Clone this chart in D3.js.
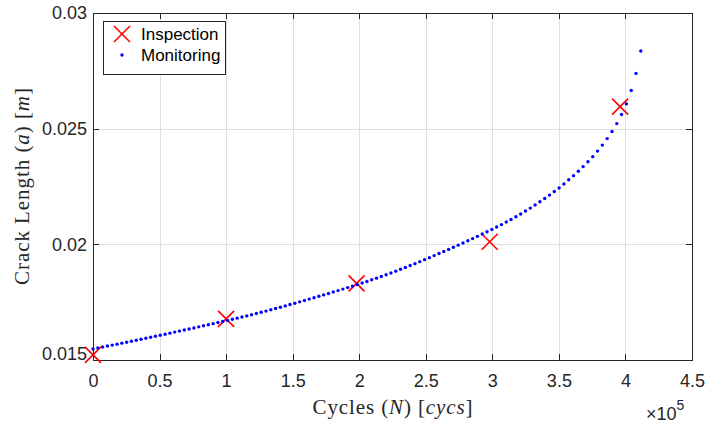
<!DOCTYPE html>
<html>
<head>
<meta charset="utf-8">
<script src="https://cdn.jsdelivr.net/npm/d3@7"></script>
<style>
  body { margin: 0; background: #ffffff; }
  svg { display: block; }
</style>
</head>
<body>
<svg id="chart" width="708" height="425"></svg>
<script>
// Inspection measurements (cycles, crack length in m)
const inspectionCycles = [0, 100000, 198000, 298000, 396000];
const inspectionCrack = [0.01522, 0.01678, 0.01831, 0.02011, 0.02595];

// Continuous monitoring samples (cycles, crack length in m)
const monitoringCycles = [
  0, 3610, 7220, 10830, 14440, 18050, 21660, 25270, 28880, 32490,
  36100, 39710, 43320, 46930, 50540, 54150, 57760, 61370, 64980, 68590,
  72200, 75810, 79420, 83030, 86640, 90250, 93860, 97470, 101080, 104690,
  108300, 111910, 115520, 119130, 122740, 126350, 129960, 133570, 137180, 140790,
  144400, 148010, 151620, 155230, 158840, 162450, 166060, 169670, 173280, 176890,
  180500, 184110, 187720, 191330, 194940, 198550, 202160, 205770, 209380, 212990,
  216600, 220210, 223820, 227430, 231040, 234650, 238260, 241870, 245480, 249090,
  252700, 256310, 259920, 263530, 267140, 270750, 274360, 277970, 281580, 285190,
  288800, 292410, 296020, 299630, 303240, 306850, 310460, 314070, 317680, 321290,
  324900, 328510, 332120, 335730, 339340, 342950, 346560, 350170, 353780, 357390,
  361000, 364610, 368220, 371830, 375440, 379050, 382660, 386270, 389880, 393490,
  397100, 400710, 404320, 407930, 411540
];
const monitoringCrack = [
  0.015480, 0.015521, 0.015562, 0.015603, 0.015644, 0.015686, 0.015728, 0.015770, 0.015812, 0.015855,
  0.015898, 0.015941, 0.015984, 0.016028, 0.016072, 0.016116, 0.016160, 0.016205, 0.016250, 0.016295,
  0.016340, 0.016386, 0.016432, 0.016478, 0.016524, 0.016571, 0.016618, 0.016665, 0.016712, 0.016760,
  0.016808, 0.016857, 0.016906, 0.016957, 0.017008, 0.017061, 0.017114, 0.017169, 0.017224, 0.017281,
  0.017338, 0.017396, 0.017454, 0.017513, 0.017572, 0.017632, 0.017692, 0.017753, 0.017814, 0.017876,
  0.017938, 0.018001, 0.018064, 0.018129, 0.018194, 0.018260, 0.018328, 0.018396, 0.018467, 0.018538,
  0.018612, 0.018686, 0.018763, 0.018840, 0.018920, 0.019000, 0.019083, 0.019166, 0.019252, 0.019338,
  0.019425, 0.019512, 0.019601, 0.019690, 0.019781, 0.019872, 0.019965, 0.020058, 0.020153, 0.020248,
  0.020346, 0.020444, 0.020544, 0.020644, 0.020748, 0.020852, 0.020963, 0.021074, 0.021193, 0.021312,
  0.021439, 0.021566, 0.021702, 0.021838, 0.021983, 0.022128, 0.022283, 0.022438, 0.022610, 0.022790,
  0.022970, 0.023160, 0.023360, 0.023570, 0.023790, 0.024030, 0.024290, 0.024570, 0.024880, 0.025220,
  0.025610, 0.026070, 0.026650, 0.027390, 0.028360
];

// Axis ticks
const xTicks = [0, 50000, 100000, 150000, 200000, 250000, 300000, 350000, 400000, 450000];
const xTickLabels = ["0", "0.5", "1", "1.5", "2", "2.5", "3", "3.5", "4", "4.5"];
const yTicks = [0.015, 0.02, 0.025, 0.03];
const yTickLabels = ["0.015", "0.02", "0.025", "0.03"];

const legendLabels = ["Inspection", "Monitoring"];

const plot = { left: 93, right: 692, top: 13, bottom: 360 };
const axisColor = "#262626";
const gridColor = "#dfdfdf";
const sansFont = "'Liberation Sans', Arial, Helvetica, sans-serif";
const serifFont = "'Liberation Serif', 'Times New Roman', serif";

const svg = d3.select("#chart");

const x = d3.scaleLinear().domain([0, 450000]).range([plot.left, plot.right]);
const y = d3.scaleLinear().domain([0.015, 0.03]).range([plot.bottom, plot.top]);

// Grid
const grid = svg.append("g").attr("shape-rendering", "crispEdges");
grid.selectAll("line.gx")
  .data(xTicks.slice(1, -1))
  .join("line")
  .attr("class", "gx")
  .attr("x1", d => Math.round(x(d)) + 0.5).attr("x2", d => Math.round(x(d)) + 0.5)
  .attr("y1", plot.top).attr("y2", plot.bottom)
  .attr("stroke", gridColor).attr("stroke-width", 1);
grid.selectAll("line.gy")
  .data(yTicks.slice(1, -1))
  .join("line")
  .attr("class", "gy")
  .attr("y1", d => Math.round(y(d)) + 0.5).attr("y2", d => Math.round(y(d)) + 0.5)
  .attr("x1", plot.left).attr("x2", plot.right)
  .attr("stroke", gridColor).attr("stroke-width", 1);

// Axes (ticks pointing inward, mirrored on top and right)
const xAxis = d3.axisBottom(x).tickValues(xTicks)
  .tickFormat((d, i) => xTickLabels[i]).tickSizeInner(-6).tickSizeOuter(0).tickPadding(14);
const yAxis = d3.axisLeft(y).tickValues(yTicks)
  .tickFormat((d, i) => yTickLabels[i]).tickSizeInner(-6).tickSizeOuter(0).tickPadding(6);
const xAxisTop = d3.axisTop(x).tickValues(xTicks).tickFormat("").tickSizeInner(-6).tickSizeOuter(0);
const yAxisRight = d3.axisRight(y).tickValues(yTicks).tickFormat("").tickSizeInner(-6).tickSizeOuter(0);

function styleAxis(g) {
  g.attr("shape-rendering", "crispEdges");
  g.selectAll("path.domain").attr("stroke", axisColor).attr("stroke-width", 1);
  g.selectAll(".tick line").attr("stroke", axisColor).attr("stroke-width", 1);
  g.selectAll(".tick text")
    .attr("fill", axisColor)
    .style("font-family", sansFont)
    .style("font-size", "18px");
}

svg.append("g").attr("transform", `translate(0,${plot.bottom})`).call(xAxis).call(styleAxis);
const gy = svg.append("g").attr("transform", `translate(${plot.left},0)`).call(yAxis).call(styleAxis);
gy.selectAll(".tick text").attr("dy", (d, i) => i === 0 ? "-0.02em" : "0.32em");
svg.append("g").attr("transform", `translate(0,${plot.top})`).call(xAxisTop).call(styleAxis);
svg.append("g").attr("transform", `translate(${plot.right},0)`).call(yAxisRight).call(styleAxis);

// Inspection markers (red crosses)
const xr = 8;
const inspection = inspectionCycles.map((c, i) => ({ c, a: inspectionCrack[i] }));
const crosses = svg.append("g").attr("stroke", "#ff0000").attr("stroke-width", 1.6);
crosses.selectAll("path")
  .data(inspection)
  .join("path")
  .attr("d", d => {
    const cx = x(d.c), cy = y(d.a);
    return `M${cx - xr},${cy - xr}L${cx + xr},${cy + xr}M${cx - xr},${cy + xr}L${cx + xr},${cy - xr}`;
  });

// Monitoring samples (blue dots)
const monitoring = monitoringCycles.map((c, i) => ({ c, a: monitoringCrack[i] }));
svg.append("g").selectAll("circle")
  .data(monitoring)
  .join("circle")
  .attr("cx", d => x(d.c))
  .attr("cy", d => y(d.a))
  .attr("r", 1.7)
  .attr("fill", "#0000ff");

// Axis labels
const xLabel = svg.append("text")
  .attr("x", (plot.left + plot.right) / 2)
  .attr("y", 414)
  .attr("text-anchor", "middle")
  .attr("fill", axisColor)
  .style("font-family", serifFont)
  .style("font-size", "21px")
  .attr("textLength", 160)
  .attr("lengthAdjust", "spacing");
xLabel.append("tspan").text("Cycles (");
xLabel.append("tspan").attr("font-style", "italic").text("N");
xLabel.append("tspan").text(") [");
xLabel.append("tspan").attr("font-style", "italic").text("cycs");
xLabel.append("tspan").text("]");

const yLabel = svg.append("text")
  .attr("transform", `translate(29,${(plot.top + plot.bottom) / 2}) rotate(-90)`)
  .attr("text-anchor", "middle")
  .attr("fill", axisColor)
  .style("font-family", serifFont)
  .style("font-size", "21px")
  .attr("textLength", 197)
  .attr("lengthAdjust", "spacing");
yLabel.append("tspan").text("Crack Length (");
yLabel.append("tspan").attr("font-style", "italic").text("a");
yLabel.append("tspan").text(") [");
yLabel.append("tspan").attr("font-style", "italic").text("m");
yLabel.append("tspan").text("]");

// Exponent of the x axis
const expo = svg.append("text")
  .attr("x", 646)
  .attr("y", 420)
  .attr("fill", axisColor)
  .style("font-family", sansFont)
  .style("font-size", "18px");
expo.append("tspan").text("\u00d710");
expo.append("tspan").attr("dy", -10).style("font-size", "14px").text("5");

// Legend
const legend = svg.append("g");
legend.append("rect")
  .attr("x", 103.5).attr("y", 21.5)
  .attr("width", 122).attr("height", 53)
  .attr("fill", "#ffffff")
  .attr("stroke", axisColor).attr("stroke-width", 1)
  .attr("shape-rendering", "crispEdges");
const lx = 122, ly1 = 34, ly2 = 55;
legend.append("path")
  .attr("d", `M${lx - xr},${ly1 - xr}L${lx + xr},${ly1 + xr}M${lx - xr},${ly1 + xr}L${lx + xr},${ly1 - xr}`)
  .attr("stroke", "#ff0000").attr("stroke-width", 1.6);
legend.append("circle").attr("cx", lx).attr("cy", ly2).attr("r", 1.7).attr("fill", "#0000ff");
legend.selectAll("text.item")
  .data(legendLabels)
  .join("text")
  .attr("class", "item")
  .attr("x", 141)
  .attr("y", (d, i) => (i === 0 ? ly1 : ly2))
  .attr("dy", "0.35em")
  .attr("fill", "#000000")
  .style("font-family", sansFont)
  .style("font-size", "17px")
  .text(d => d);
</script>
</body>
</html>
